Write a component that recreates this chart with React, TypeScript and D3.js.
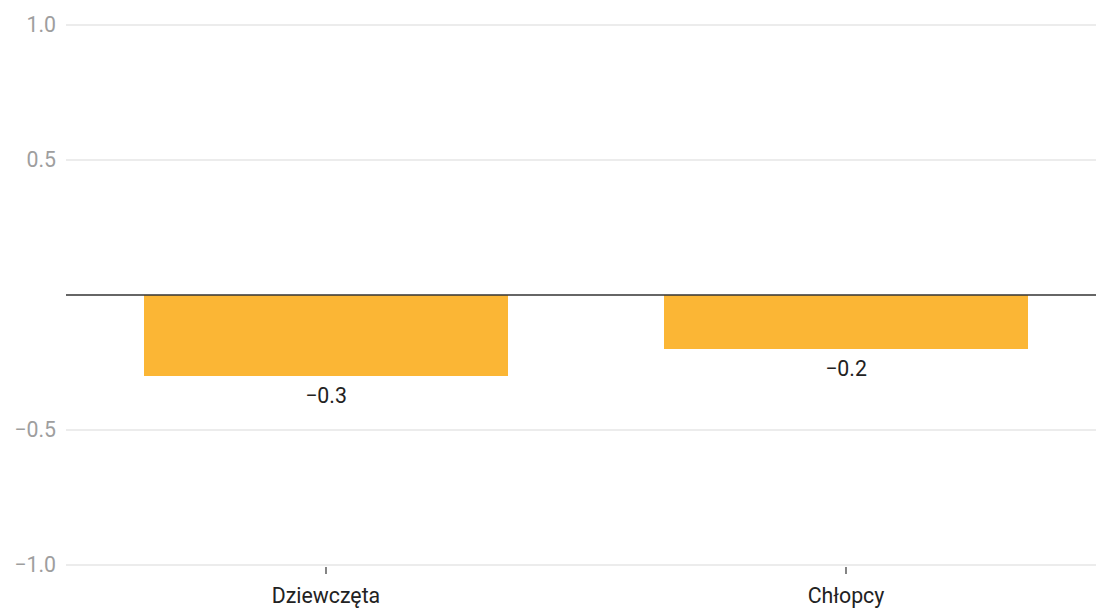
import React from "react";
import * as d3 from "d3";

const categories = ["Dziewczęta", "Chłopcy"];
const values = [-0.3, -0.2];
const yTicks = [-1.0, -0.5, 0.5, 1.0];

const W = 1096;
const H = 608;

export default function App() {
  const x = d3.scaleBand<string>().domain(categories).range([66, 1106]).paddingInner(0.3).paddingOuter(0.15);
  const y = d3.scaleLinear().domain([-1, 1]).range([565, 25]);
  const fmt = (v: number) => d3.format(".1f")(v).replace("-", "\u2212");
  const font = "Roboto, 'Noto Sans', sans-serif";
  const fs = 21.3;
  return (
    <div style={{ position: "absolute", left: 0, top: 0 }}>
      <svg width={W} height={H} style={{ display: "block", fontFamily: font }}>
        {yTicks.map((t) => (
          <g key={t}>
            <line x1={66} x2={W} y1={y(t)} y2={y(t)} stroke="#e6e6e6" strokeWidth={1.5} />
            <text x={56} y={y(t)} dy="0.35em" textAnchor="end" fill="#9e9e9e" fontSize={fs}>
              {fmt(t)}
            </text>
          </g>
        ))}
        {categories.map((c, i) => {
          const v = values[i];
          const y0 = y(0);
          const y1 = y(v);
          const cx = (x(c) as number) + x.bandwidth() / 2;
          return (
            <g key={c}>
              <rect x={x(c)} y={Math.min(y0, y1)} width={x.bandwidth()} height={Math.abs(y1 - y0)} fill="#FBB635" />
              <text x={cx} y={Math.max(y0, y1) + 20} dy="0.35em" textAnchor="middle" fill="#222" fontSize={fs}>
                {fmt(v)}
              </text>
              <line x1={cx} x2={cx} y1={567} y2={574} stroke="#333" strokeWidth={1.2} />
              <text x={cx} y={596} dy="0.35em" textAnchor="middle" fill="#222" fontSize={fs}>
                {c}
              </text>
            </g>
          );
        })}
        <line x1={66} x2={W} y1={y(0)} y2={y(0)} stroke="#333" strokeWidth={1.5} />
      </svg>
    </div>
  );
}
